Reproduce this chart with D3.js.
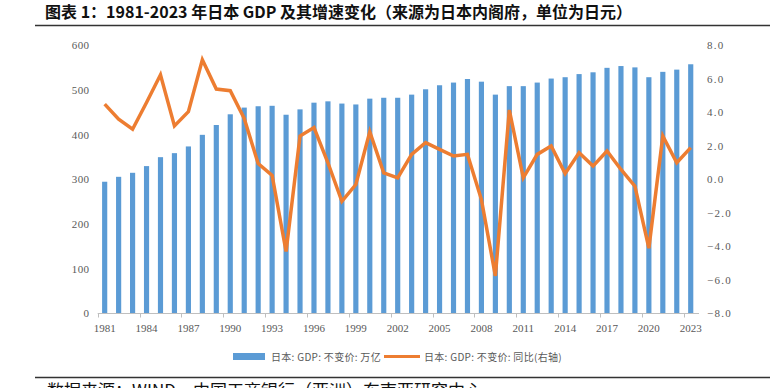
<!DOCTYPE html>
<html>
<head>
<meta charset="utf-8">
<script src="https://cdn.jsdelivr.net/npm/d3@7"></script>
<style>
  html, body { margin: 0; padding: 0; background: #fff; }
  svg { display: block; }
</style>
</head>
<body>
<svg id="chart" width="770" height="388"></svg>
<script>
const years = d3.range(1981, 2024).map(String);
const gdp = [295, 306, 315, 330, 350, 359, 374, 400, 422, 446, 461, 464, 465, 445, 457,
             472, 475, 470, 468, 481, 483, 483, 490, 502, 511, 517, 525, 519, 490, 509,
             509, 517, 526, 529, 536, 540, 550, 554, 551, 529, 541, 546, 558];
const growth = [4.5, 3.6, 3.0, 4.6, 6.25, 3.2, 4.05, 7.15, 5.4, 5.3, 3.65, 0.95, 0.25, -4.3, 2.6,
                3.1, 1.0, -1.3, -0.3, 2.85, 0.4, 0.1, 1.5, 2.2, 1.8, 1.4, 1.5, -1.2, -5.75, 4.15,
                0.1, 1.5, 2.0, 0.35, 1.6, 0.8, 1.7, 0.6, -0.4, -4.1, 2.6, 1.0, 1.9];
const leftTicks = [0, 100, 200, 300, 400, 500, 600];
const rightTicks = [-8, -6, -4, -2, 0, 2, 4, 6, 8];
const labelYears = years.filter((d, i) => i % 3 === 0);
const titleText = "图表 1：1981-2023 年日本 GDP 及其增速变化（来源为日本内阁府，单位为日元）";
const sourceText = "数据来源：WIND，中国工商银行（亚洲）东南亚研究中心";
const legendBar = "日本: GDP: 不变价: 万亿";
const legendLine = "日本: GDP: 不变价: 同比(右轴)";

const svg = d3.select("#chart");
const blue = "#5B9BD5", orange = "#ED7D31";
const cjk = "'Noto Sans CJK SC', sans-serif";
const serif = "'Liberation Serif', 'DejaVu Serif', serif";

// Title
svg.append("text").attr("x", 45).attr("y", 18)
  .attr("font-family", cjk).attr("font-weight", "bold").attr("font-size", 16)
  .attr("fill", "#111").text(titleText);
svg.append("line").attr("x1", 35).attr("x2", 770).attr("y1", 25.5).attr("y2", 25.5)
  .attr("stroke", "#333").attr("stroke-width", 1.3);

const x = d3.scaleBand().domain(years).range([97.7, 697.7]).padding(0);
const yL = d3.scaleLinear().domain([0, 600]).range([313.5, 45.5]);
const yR = d3.scaleLinear().domain([-8, 8]).range([313.5, 45.5]);
const bw = x.bandwidth() * 0.37;

// Bars
svg.append("g").selectAll("rect").data(years).join("rect")
  .attr("x", (d) => x(d) + x.bandwidth() / 2 - bw / 2)
  .attr("width", bw)
  .attr("y", (d, i) => yL(gdp[i]))
  .attr("height", (d, i) => yL(0) - yL(gdp[i]))
  .attr("fill", blue);

// X axis
svg.append("line").attr("x1", 97.7).attr("x2", 699).attr("y1", 313.5).attr("y2", 313.5)
  .attr("stroke", "#bfbfbf").attr("stroke-width", 1);
const xg = svg.append("g");
xg.selectAll("line").data(labelYears).join("line")
  .attr("x1", (d) => Math.round(x(d)) + 0.5).attr("x2", (d) => Math.round(x(d)) + 0.5)
  .attr("y1", 313.5).attr("y2", 317.5).attr("stroke", "#bfbfbf");
xg.selectAll("text").data(labelYears).join("text")
  .attr("x", (d) => x(d) + x.bandwidth() / 2).attr("y", 332)
  .attr("text-anchor", "middle").attr("font-family", serif).attr("font-size", 11)
  .attr("fill", "#595959").text((d) => d);

// Left axis labels
svg.append("g").selectAll("text").data(leftTicks).join("text")
  .attr("x", 89.5).attr("y", (d) => yL(d) + 3.8)
  .attr("text-anchor", "end").attr("font-family", serif).attr("font-size", 11)
  .attr("letter-spacing", 0.4).attr("fill", "#595959").text((d) => d);

// Right axis labels
svg.append("g").selectAll("text").data(rightTicks).join("text")
  .attr("x", 707).attr("y", (d) => yR(d) + 3.8)
  .attr("font-family", serif).attr("font-size", 11)
  .attr("letter-spacing", 1.3).attr("fill", "#595959")
  .text((d) => (d < 0 ? "−" : "") + Math.abs(d).toFixed(1));

// Line
const line = d3.line().x((d, i) => x(years[i]) + x.bandwidth() / 2).y((d) => yR(d));
svg.append("path").datum(growth).attr("d", line)
  .attr("fill", "none").attr("stroke", orange).attr("stroke-width", 3.5)
  .attr("stroke-linejoin", "miter");

// Legend
svg.append("rect").attr("x", 233).attr("y", 353).attr("width", 32).attr("height", 7).attr("fill", blue);
svg.append("text").attr("x", 271).attr("y", 360.5).attr("font-family", cjk).attr("font-size", 10)
  .attr("fill", "#595959").attr("letter-spacing", 0.3).text(legendBar);
svg.append("line").attr("x1", 384).attr("x2", 420).attr("y1", 356.5).attr("y2", 356.5)
  .attr("stroke", orange).attr("stroke-width", 3);
svg.append("text").attr("x", 424).attr("y", 360.5).attr("font-family", cjk).attr("font-size", 10)
  .attr("fill", "#595959").attr("letter-spacing", 0.3).text(legendLine);

// Bottom rule and source (clipped by the frame)
svg.append("line").attr("x1", 35).attr("x2", 770).attr("y1", 377.5).attr("y2", 377.5)
  .attr("stroke", "#333").attr("stroke-width", 1.3);
svg.append("text").attr("x", 47).attr("y", 397).attr("font-family", cjk).attr("font-size", 17)
  .attr("fill", "#111").text(sourceText);
</script>
</body>
</html>
